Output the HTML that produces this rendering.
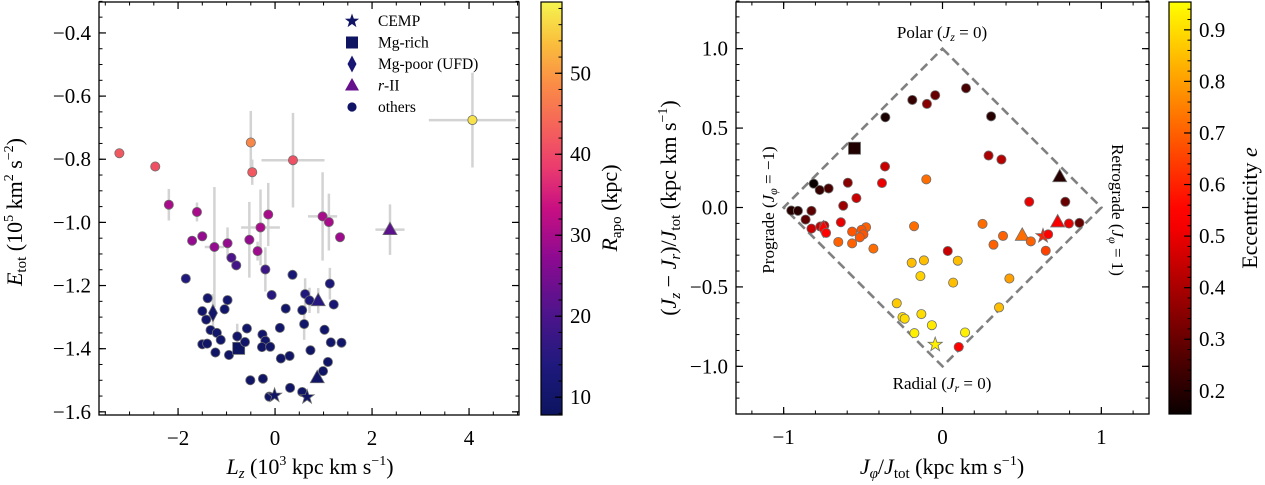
<!DOCTYPE html>
<html><head><meta charset="utf-8"><style>
html,body{margin:0;padding:0;background:#fff;}
svg{display:block;font-family:"Liberation Serif",serif;}
</style></head><body>
<svg id="fig" width="1265" height="485" viewBox="0 0 1265 485" xmlns="http://www.w3.org/2000/svg">
<defs>
<linearGradient id="gPlasma" x1="0" y1="1" x2="0" y2="0"></linearGradient>
<linearGradient id="gHot" x1="0" y1="1" x2="0" y2="0"></linearGradient>
</defs>
<g id="L"></g>
<g id="R"></g>
</svg>
<script>
// ---------- Left panel data ----------
const lzVals = [-3.21,-2.47,-2.19,-1.61,-0.50,-0.47,0.37,4.07,-0.14,-0.30,0.98,1.11,1.34,2.37,-1.71,-1.50,-1.25,-0.98,-0.53,-0.36,-0.90,-0.80,-0.20,-1.84,0.36,1.13,-0.07,0.62,0.71,0.89,1.21,-1.39,-0.98,-1.50,-1.28,-1.04,-1.42,0.22,0.56,0.60,-1.33,-1.20,-1.12,-1.50,-1.40,-1.23,-0.95,-0.75,-0.78,-0.62,-0.58,-0.26,-0.20,-0.27,-0.10,0.10,0.12,0.30,0.73,1.02,1.15,1.37,1.09,0.99,0.87,-0.51,-0.25,0.31,0.56,-0.12,-0.01,0.66];
const etotVals = [-0.781,-0.823,-0.944,-0.967,-0.747,-0.841,-0.803,-0.676,-0.975,-1.016,-0.981,-0.999,-1.047,-1.023,-1.058,-1.044,-1.078,-1.066,-1.055,-1.091,-1.112,-1.136,-1.149,-1.178,-1.166,-1.194,-1.230,-1.227,-1.247,-1.248,-1.260,-1.240,-1.246,-1.281,-1.287,-1.275,-1.308,-1.273,-1.278,-1.322,-1.341,-1.350,-1.372,-1.386,-1.384,-1.412,-1.420,-1.399,-1.361,-1.379,-1.336,-1.355,-1.375,-1.395,-1.394,-1.334,-1.431,-1.423,-1.405,-1.340,-1.380,-1.381,-1.442,-1.471,-1.492,-1.500,-1.495,-1.524,-1.537,-1.552,-1.548,-1.553];
const rapoVals = [42,41,30,30,48,42,41,57,30,30,30,30,29,22,28,28,28,28,28,29,20,19,18,14,12,13,15,14,13,15,12,11,11,10,10,10,10,10,10,10,10,10,10,9,9,9,9,8,10,10,10,10,10,9,9,10,9,9,9,10,10,10,9,9,9,9,9,9,9,9,9,9];
const typeL = ['o','o','o','o','o','o','o','o','o','o','o','o','o','^','o','o','o','o','o','o','o','o','o','o','o','o','o','o','o','^','o','o','o','o','d','o','o','o','o','o','o','o','o','o','o','o','o','s','o','o','o','o','o','o','o','o','o','o','o','o','o','o','o','o','^','o','o','o','o','o','*','*'];
const errLzVals = [0,0,0,0,0,0,0.65,0.9,0,0.4,0.3,0,0,0.3,0,0,0.2,0.1,0,0,0,0,0,0,0,0,0,0,0,0,0,0,0,0,0,0,0,0,0,0,0,0,0,0,0,0,0,0,0,0,0,0,0,0,0,0,0,0,0,0,0,0,0,0,0,0,0,0,0,0,0,0];
const errEVals = [0,0,0.05,0.03,0.1,0.04,0.15,0.15,0.1,0.12,0.14,0.09,0,0.08,0,0,0.19,0.05,0.12,0.03,0,0,0.07,0,0,0.05,0,0.05,0.04,0.04,0,0,0,0,0.06,0,0,0,0,0.05,0,0,0,0,0,0,0,0,0.04,0,0,0,0,0,0,0,0,0,0,0,0,0,0,0,0,0,0,0,0,0,0,0];
const lzTicks = [-2,0,2,4];
const eTicks = [-0.4,-0.6,-0.8,-1.0,-1.2,-1.4,-1.6];
const rapoTicks = [10,20,30,40,50];

// ---------- Right panel data ----------
const jphiVals = [0.148,-0.190,-0.098,-0.046,-0.360,0.306,-0.554,0.290,0.371,-0.362,-0.102,-0.596,-0.381,-0.811,-0.773,-0.717,0.738,-0.542,-0.625,0.546,0.773,-0.952,-0.910,-0.825,-0.862,-0.640,-0.481,0.862,0.796,0.725,-0.179,0.252,-0.825,-0.769,-0.744,-0.750,-0.733,-0.569,-0.510,-0.498,-0.521,-0.656,-0.569,-0.435,0.321,0.381,0.502,0.556,0.633,0.665,0.650,0.033,-0.194,-0.117,0.096,-0.139,0.067,0.421,-0.288,-0.252,-0.238,-0.133,-0.067,0.356,-0.177,0.142,-0.046,0.102];
const jzrVals = [0.751,0.677,0.652,0.707,0.568,0.574,0.373,0.327,0.302,0.258,0.177,0.156,0.154,0.150,0.110,0.120,0.194,0.059,0.011,0.036,0.036,-0.019,-0.021,-0.021,-0.076,-0.093,-0.124,-0.097,-0.101,-0.091,-0.118,-0.103,-0.133,-0.120,-0.114,-0.135,-0.160,-0.152,-0.141,-0.169,-0.188,-0.217,-0.226,-0.259,-0.234,-0.179,-0.175,-0.213,-0.179,-0.169,-0.272,-0.274,-0.348,-0.333,-0.335,-0.432,-0.473,-0.447,-0.603,-0.690,-0.700,-0.671,-0.741,-0.629,-0.791,-0.787,-0.863,-0.878];
const eccVals = [0.25,0.22,0.35,0.30,0.18,0.20,0.19,0.40,0.42,0.45,0.72,0.35,0.50,0.15,0.22,0.25,0.20,0.45,0.38,0.50,0.30,0.20,0.20,0.28,0.28,0.50,0.70,0.30,0.50,0.52,0.72,0.72,0.45,0.45,0.45,0.55,0.55,0.68,0.68,0.68,0.68,0.70,0.70,0.72,0.70,0.70,0.72,0.70,0.60,0.55,0.65,0.45,0.85,0.85,0.85,0.88,0.85,0.80,0.87,0.90,0.90,0.90,0.92,0.85,0.93,0.93,0.93,0.55];
const typeR = ['o','o','o','o','o','o','s','o','o','o','o','o','o','o','o','o','^','o','o','o','o','o','o','o','o','o','o','o','o','^','o','o','o','o','o','d','o','o','o','o','o','o','o','o','o','o','^','o','*','o','o','o','o','o','o','o','o','o','o','o','o','o','o','o','o','o','*','o'];
const jphiTicks = [-1,0,1];
const jzrTicks = [1.0,0.5,0.0,-0.5,-1.0];
const eccTicks = [0.2,0.3,0.4,0.5,0.6,0.7,0.8,0.9];

const NS='http://www.w3.org/2000/svg';
function mk(tag, attrs, parent){const e=document.createElementNS(NS,tag);for(const k in attrs)e.setAttribute(k,attrs[k]);if(parent)parent.appendChild(e);return e;}
function lin(d0,d1,r0,r1){return v=>r0+(v-d0)/(d1-d0)*(r1-r0);}
function fmt(v,dec){let s=v.toFixed(dec);return s.replace('-','\u2212');}

// colormaps
const cmPos=[0,0.12,0.25,0.38,0.5,0.6,0.7,0.8,0.9,1];
const cmCol=[[12,20,95],[30,25,125],[80,20,140],[140,10,145],[200,15,130],[235,60,110],[245,100,90],[250,140,70],[250,190,60],[245,245,80]];
function plasma(t){t=Math.max(0,Math.min(1,t));let i=0;while(i<cmPos.length-2&&t>cmPos[i+1])i++;const u=(t-cmPos[i])/(cmPos[i+1]-cmPos[i]),a=cmCol[i],b=cmCol[i+1];return 'rgb('+a.map((c,k)=>Math.round(c+(b[k]-c)*u)).join(',')+')';}
function hot(t){t=Math.max(0,Math.min(1,t));const r=Math.min(1,0.04+t/0.49),g=Math.max(0,Math.min(1,(t-0.49)/0.51));return 'rgb('+Math.round(r*255)+','+Math.round(g*255)+',0)';}

const L=document.getElementById('L'), R=document.getElementById('R');

// scales
const xL=lin(-3.63,5.03,99,519), yL=lin(-1.61,-0.302,415,2);
const xR=lin(-1.3,1.3,736,1149), yR=lin(-1.3,1.3,414,1);
const cbL=lin(7.8,58.8,415,2), cbR=lin(0.155,0.954,414,2);
const RMIN=7.8,RMAX=58.8,EMIN=0.155,EMAX=0.954;

function marker(g,type,x,y,fill,stroke,name){
  let e;
  if(type==='o') e=mk('circle',{cx:x,cy:y,r:4.6},g);
  else if(type==='s') e=mk('rect',{x:x-6,y:y-6,width:12,height:12},g);
  else if(type==='^') e=mk('polygon',{points:`${x},${y-7.5} ${x+7},${y+5} ${x-7},${y+5}`},g);
  else if(type==='d') e=mk('polygon',{points:`${x},${y-8.5} ${x+4.5},${y} ${x},${y+8.5} ${x-4.5},${y}`},g);
  else { let p=[];for(let k=0;k<10;k++){const a=-Math.PI/2+k*Math.PI/5,rr=k%2?3:7.5;p.push((x+rr*Math.cos(a)).toFixed(1)+','+(y+rr*Math.sin(a)).toFixed(1));} e=mk('polygon',{points:p.join(' ')},g);}
  e.setAttribute('fill',fill);e.setAttribute('stroke',stroke);e.setAttribute('stroke-width','0.8');
  
  
  return e;
}

function frame(g,x0,y0,x1,y1,name){
  const r=mk('rect',{x:x0,y:y0,width:x1-x0,height:y1-y0,fill:'none',stroke:'#000','stroke-width':1.3},g);
  
  
}
function xticks(g,scale,y0,y1,major,minors,labels,dec,name){
  const tg=mk('g',{},g);
  
  
  minors.forEach(v=>{const x=scale(v);mk('line',{x1:x,x2:x,y1:y1,y2:y1-3.5,stroke:'#000','stroke-width':1},tg);mk('line',{x1:x,x2:x,y1:y0,y2:y0+3.5,stroke:'#000','stroke-width':1},tg);});
  major.forEach(v=>{const x=scale(v);mk('line',{x1:x,x2:x,y1:y1,y2:y1-7,stroke:'#000','stroke-width':1.2},tg);mk('line',{x1:x,x2:x,y1:y0,y2:y0+7,stroke:'#000','stroke-width':1.2},tg);
    const t=mk('text',{x:x,y:y1+30,'text-anchor':'middle','font-size':21},tg);t.textContent=fmt(v,dec);
    
    });
}
function yticks(g,scale,x0,x1,major,minors,dec,name){
  const tg=mk('g',{},g);
  
  
  minors.forEach(v=>{const y=scale(v);mk('line',{x1:x0,x2:x0+3.5,y1:y,y2:y,stroke:'#000','stroke-width':1},tg);mk('line',{x1:x1,x2:x1-3.5,y1:y,y2:y,stroke:'#000','stroke-width':1},tg);});
  major.forEach(v=>{const y=scale(v);mk('line',{x1:x0,x2:x0+7,y1:y,y2:y,stroke:'#000','stroke-width':1.2},tg);mk('line',{x1:x1,x2:x1-7,y1:y,y2:y,stroke:'#000','stroke-width':1.2},tg);
    const t=mk('text',{x:x0-8,y:y+7,'text-anchor':'end','font-size':21},tg);t.textContent=fmt(v,dec);
    
    });
}
function range(a,b,s){const r=[];for(let v=a;v<=b+1e-9;v+=s)r.push(+v.toFixed(4));return r;}

// ---------- LEFT PANEL ----------
const eg=mk('g',{},L);


lzVals.forEach((v,i)=>{
  const x=xL(v),y=yL(etotVals[i]);
  if(errLzVals[i]>0) mk('line',{x1:xL(v-errLzVals[i]),x2:xL(v+errLzVals[i]),y1:y,y2:y,stroke:'#d3d3d3','stroke-width':2.5},eg);
  if(errEVals[i]>0) mk('line',{x1:x,x2:x,y1:yL(etotVals[i]-errEVals[i]),y2:yL(etotVals[i]+errEVals[i]),stroke:'#d3d3d3','stroke-width':2.5},eg);
});
const pg=mk('g',{},L);


lzVals.forEach((v,i)=>{
  marker(pg,typeL[i],xL(v),yL(etotVals[i]),plasma((rapoVals[i]-RMIN)/(RMAX-RMIN)),'#6e6e6e','star-point');
});
frame(L,99,2,519,415,'left-axes-frame');
xticks(L,xL,2,415,lzTicks,range(-3.5,5,0.5),null,0,'x-axis-ticks');
yticks(L,yL,99,519,eTicks,range(-1.6,-0.3,0.05),1,'y-axis-ticks');

// legend
const lg=mk('g',{},L);


const legItems=[['*','CEMP',plasma(0.02)],['s','Mg-rich',plasma(0.01)],['d','Mg-poor (UFD)',plasma(0.08)],['^','r-II',plasma(0.3)],['o','others',plasma(0.02)]];
legItems.forEach((it,k)=>{
  const y=21+k*21.5;
  marker(lg,it[0],352,y,it[2],'none','legend-marker');
  const t=mk('text',{x:378,y:y+5,'font-size':15.5},lg);
  if(it[1]==='r-II'){const a=mk('tspan',{'font-style':'italic'},t);a.textContent='r';const b=mk('tspan',{},t);b.textContent='-II';}
  else t.textContent=it[1];
  
  
});

let t=mk('text',{x:310,y:474,'text-anchor':'middle','font-size':22},L);


t.innerHTML='<tspan font-style="italic">L</tspan><tspan font-size="15" font-style="italic" dy="4">z</tspan><tspan dy="-4"> (10</tspan><tspan font-size="14" dy="-9">3</tspan><tspan dy="9"> kpc km s</tspan><tspan font-size="14" dy="-9">−1</tspan><tspan dy="9">)</tspan>';
t=mk('text',{x:0,y:0,'text-anchor':'middle','font-size':22,transform:'translate(22,212) rotate(-90)'},L);


t.innerHTML='<tspan font-style="italic">E</tspan><tspan font-size="15" dy="4">tot</tspan><tspan dy="-4"> (10</tspan><tspan font-size="14" dy="-9">5</tspan><tspan dy="9"> km</tspan><tspan font-size="14" dy="-9">2</tspan><tspan dy="9"> s</tspan><tspan font-size="14" dy="-9">−2</tspan><tspan dy="9">)</tspan>';

// left colorbar
const gp=document.getElementById('gPlasma');
for(let k=0;k<=40;k++){mk('stop',{offset:(k/40),'stop-color':plasma(k/40)},gp);}
const cb1=mk('g',{},L);


mk('rect',{x:541,y:2,width:21,height:413,fill:'url(#gPlasma)',stroke:'#000','stroke-width':1.2},cb1);
range(8,58,2).forEach(v=>{const y=cbL(v);mk('line',{x1:562,x2:558.5,y1:y,y2:y,stroke:'#000','stroke-width':1},cb1);});
rapoTicks.forEach(v=>{const y=cbL(v);mk('line',{x1:562,x2:555,y1:y,y2:y,stroke:'#000','stroke-width':1.2},cb1);
  const tt=mk('text',{x:570,y:y+7,'font-size':21},cb1);tt.textContent=v;
  
  });
t=mk('text',{x:0,y:0,'text-anchor':'middle','font-size':22,transform:'translate(617,208) rotate(-90)'},L);


t.innerHTML='<tspan font-style="italic">R</tspan><tspan font-size="15" dy="4">apo</tspan><tspan dy="-4"> (kpc)</tspan>';

// ---------- RIGHT PANEL ----------
const dg=mk('polygon',{points:`${xR(0)},${yR(1)} ${xR(1)},${yR(0)} ${xR(0)},${yR(-1)} ${xR(-1)},${yR(0)}`,fill:'none',stroke:'#808080','stroke-width':2.6,'stroke-dasharray':'9,5'},R);


const rg=mk('g',{},R);


jphiVals.forEach((v,i)=>{
  marker(rg,typeR[i],xR(v),yR(jzrVals[i]),hot((eccVals[i]-EMIN)/(EMAX-EMIN)),'#6e6e6e','action-point');
});
frame(R,736,2,1149,414,'right-axes-frame');
xticks(R,xR,2,414,jphiTicks,range(-1.2,1.2,0.2),null,0,'x-axis-ticks-right');
yticks(R,yR,736,1149,jzrTicks,range(-1.3,1.3,0.1),1,'y-axis-ticks-right');

function ann(x,y,html,rot,name){
  const a=mk('text',{x:0,y:0,'text-anchor':'middle','font-size':17,transform:`translate(${x},${y}) rotate(${rot})`},R);
  a.innerHTML=html;
  
  
}
ann(942,38,'Polar (<tspan font-style="italic">J</tspan><tspan font-size="12" font-style="italic" dy="3">z</tspan><tspan dy="-3"> = 0)</tspan>',0,'polar-annotation');
ann(942,389,'Radial (<tspan font-style="italic">J</tspan><tspan font-size="12" font-style="italic" dy="3">r</tspan><tspan dy="-3"> = 0)</tspan>',0,'radial-annotation');
ann(774,210,'Prograde (<tspan font-style="italic">J</tspan><tspan font-size="12" font-style="italic" dy="3">φ</tspan><tspan dy="-3"> = −1)</tspan>',-90,'prograde-annotation');
ann(1112,210,'Retrograde (<tspan font-style="italic">J</tspan><tspan font-size="12" font-style="italic" dy="3">φ</tspan><tspan dy="-3"> = 1)</tspan>',90,'retrograde-annotation');

t=mk('text',{x:942,y:474,'text-anchor':'middle','font-size':22},R);


t.innerHTML='<tspan font-style="italic">J</tspan><tspan font-size="15" font-style="italic" dy="4">φ</tspan><tspan dy="-4">/</tspan><tspan font-style="italic">J</tspan><tspan font-size="15" dy="4">tot</tspan><tspan dy="-4"> (kpc km s</tspan><tspan font-size="14" dy="-9">−1</tspan><tspan dy="9">)</tspan>';
t=mk('text',{x:0,y:0,'text-anchor':'middle','font-size':22,transform:'translate(676,208) rotate(-90)'},R);


t.innerHTML='(<tspan font-style="italic">J</tspan><tspan font-size="15" font-style="italic" dy="4">z</tspan><tspan dy="-4"> − </tspan><tspan font-style="italic">J</tspan><tspan font-size="15" font-style="italic" dy="4">r</tspan><tspan dy="-4">)/</tspan><tspan font-style="italic">J</tspan><tspan font-size="15" dy="4">tot</tspan><tspan dy="-4"> (kpc km s</tspan><tspan font-size="14" dy="-9">−1</tspan><tspan dy="9">)</tspan>';

// right colorbar
const gh=document.getElementById('gHot');
for(let k=0;k<=20;k++){mk('stop',{offset:(k/20),'stop-color':hot(k/20)},gh);}
const cb2=mk('g',{},R);


mk('rect',{x:1169,y:2,width:22,height:412,fill:'url(#gHot)',stroke:'#000','stroke-width':1.2},cb2);
range(0.16,0.94,0.02).forEach(v=>{const y=cbR(v);mk('line',{x1:1191,x2:1187.5,y1:y,y2:y,stroke:'#000','stroke-width':1},cb2);});
eccTicks.forEach(v=>{const y=cbR(v);mk('line',{x1:1191,x2:1184,y1:y,y2:y,stroke:'#000','stroke-width':1.2},cb2);
  const tt=mk('text',{x:1199,y:y+7,'font-size':21},cb2);tt.textContent=v.toFixed(1);
  
  });
t=mk('text',{x:0,y:0,'text-anchor':'middle','font-size':22,transform:'translate(1257,208) rotate(-90)'},R);


t.innerHTML='Eccentricity <tspan font-style="italic">e</tspan>';
</script>
</body></html>
